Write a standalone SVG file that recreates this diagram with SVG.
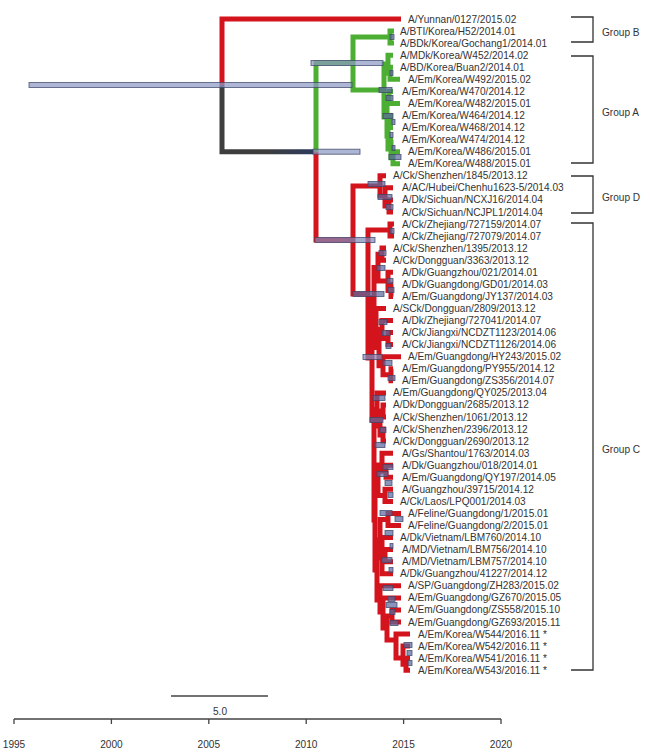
<svg xmlns="http://www.w3.org/2000/svg" width="650" height="752" viewBox="0 0 650 752">
<defs>
<linearGradient id="rootgrad" gradientUnits="userSpaceOnUse" x1="222" y1="0" x2="316" y2="0">
<stop offset="0" stop-color="#3e3e3e"/><stop offset="0.45" stop-color="#3e3e3e"/><stop offset="1" stop-color="#2c3a5e"/>
</linearGradient>
<style>
.br{fill:none;stroke-width:5;stroke-linejoin:miter;stroke-linecap:butt}
.r{stroke:#d4141d}
.g{stroke:#4caf34}
.k{stroke:url(#rootgrad)}
.hpd rect{fill:#5d6a9e;fill-opacity:0.72;stroke:#3c4566;stroke-width:0.9;stroke-opacity:0.8}
.t{font-family:"Liberation Sans","Open Sans",sans-serif;font-size:10.1px;fill:#333}
.br2{fill:none;stroke:#333;stroke-width:1.3}
.ax{fill:none;stroke:#444;stroke-width:1.3}
</style>
</defs>
<rect width="650" height="752" fill="#fff"/>

<g id="connectors">
<g id="branches-root">
<path class="br r" d="M401 19H222V85"/>
<path class="br k" d="M222 85V151.7H316"/>
</g>
<g id="branches-green">
<path class="br g" d="M353 63H316V151.7"/>
<path class="br g" d="M390 37.1H353V90H384"/>
<path class="br g" d="M394 31.1H390V43.1H394"/>
<path class="br g" d="M388 64H384V117H387"/>
<path class="br g" d="M393 55.2H388V73.3H390"/>
<path class="br g" d="M393 67.2H390V79.3H400"/>
<path class="br g" d="M389 97.4H387V136H388"/>
<path class="br g" d="M393 91.4H389V103.4H400"/>
<path class="br g" d="M390 121.5H388V149H391"/>
<path class="br g" d="M393 115.5H390V127.5H393"/>
<path class="br g" d="M393 139.6H391V157.7H393"/>
<path class="br g" d="M400 151.7H393V163.7H400"/>
</g>
<g id="branches-red">
<path class="br r" d="M316 151.7V240H353"/>
<path class="br r" d="M380 186H353V294H368"/>
<path class="br r" d="M386 175.8H380V196H385"/>
<path class="br r" d="M393 187.8H385V206H389"/>
<path class="br r" d="M393 199.9H389V212H393"/>
<path class="br r" d="M390 230H368V358H372"/>
<path class="br r" d="M394 224H390V236.1H394"/>
<path class="br r" d="M374 298H372V420H374"/>
<path class="br r" d="M378 267.5H374V328H376"/>
<path class="br r" d="M382 254.2H378V281H388"/>
<path class="br r" d="M386 248.1H382V260.2H386"/>
<path class="br r" d="M393 272.3H388V290.4H391"/>
<path class="br r" d="M393 284.3H391V296.4H393"/>
<path class="br r" d="M386 308.4H376V347.6H379"/>
<path class="br r" d="M382 329.5H379V365.7H383"/>
<path class="br r" d="M393 320.5H382V338.6H388"/>
<path class="br r" d="M393 332.6H388V344.6H393"/>
<path class="br r" d="M401 356.7H383V374.8H391"/>
<path class="br r" d="M393 368.7H391V380.8H393"/>
<path class="br r" d="M377 409.5H374V520H375"/>
<path class="br r" d="M386 392.9H377V426H380"/>
<path class="br r" d="M383 411H380V435H383"/>
<path class="br r" d="M386 404.9H383V417H386"/>
<path class="br r" d="M386 429H383V441.1H386"/>
<path class="br r" d="M378 478H375V570H377"/>
<path class="br r" d="M382 465H378V495.4H385"/>
<path class="br r" d="M393 453.2H382V471.3H386"/>
<path class="br r" d="M393 465.2H386V477.3H393"/>
<path class="br r" d="M393 489.3H385V501.4H393"/>
<path class="br r" d="M380 540H377V600H380"/>
<path class="br r" d="M388 519.5H380V558H382"/>
<path class="br r" d="M401 513.5H388V525.5H401"/>
<path class="br r" d="M393 537.6H382V573.8H393M382 555.7H385"/>
<path class="br r" d="M393 549.6H385V561.7H393"/>
<path class="br r" d="M401 585.8H380V612H383"/>
<path class="br r" d="M401 597.9H383V628H387"/>
<path class="br r" d="M392 616H387V640H396"/>
<path class="br r" d="M401 609.9H392V622H401"/>
<path class="br r" d="M410 634.1H396V658H403"/>
<path class="br r" d="M410 646.1H403V664.2H406"/>
<path class="br r" d="M410 658.2H406V670.2H410"/>
</g>
<g id="hpd-bars" class="hpd">
<rect x="29" y="82.5" width="323" height="5" style="fill:#8e9ac4"/>
<rect x="313" y="149.2" width="47" height="5" style="fill:#8e9ac4"/>
<rect x="311" y="60.5" width="72" height="5" style="fill:#8e9ac4"/>
<rect x="390" y="34.5" width="4" height="5"/>
<rect x="390" y="70.5" width="3" height="5"/>
<rect x="379" y="87.5" width="13" height="5"/>
<rect x="386" y="95.5" width="7" height="5"/>
<rect x="383" y="113.5" width="10" height="5"/>
<rect x="392" y="119.5" width="3" height="5"/>
<rect x="390" y="132.5" width="3" height="5"/>
<rect x="392" y="145.5" width="3" height="5"/>
<rect x="389" y="154.5" width="12" height="5"/>
<rect x="315" y="237.5" width="60" height="5" style="fill:#7f8bbb"/>
<rect x="368" y="181.5" width="17" height="5"/>
<rect x="378" y="194.5" width="14" height="5"/>
<rect x="386" y="204.5" width="7" height="5"/>
<rect x="390" y="228.5" width="4" height="5"/>
<rect x="379" y="250.5" width="7" height="5"/>
<rect x="377" y="265.5" width="8" height="5"/>
<rect x="387" y="278.5" width="6" height="5"/>
<rect x="388" y="287.5" width="6" height="5"/>
<rect x="353" y="291.5" width="31" height="5"/>
<rect x="379" y="319.5" width="8" height="5"/>
<rect x="382" y="330.5" width="8" height="5"/>
<rect x="386" y="343.5" width="5" height="5"/>
<rect x="363" y="354.5" width="19" height="5" style="fill:#7f8bbb"/>
<rect x="383" y="360.5" width="9" height="5"/>
<rect x="388" y="375.5" width="7" height="5"/>
<rect x="373" y="395.5" width="12" height="5"/>
<rect x="370" y="417.5" width="13" height="5"/>
<rect x="380" y="427.5" width="6" height="5"/>
<rect x="375" y="442.5" width="10" height="5"/>
<rect x="383" y="464.5" width="10" height="5"/>
<rect x="377" y="471.5" width="11" height="5"/>
<rect x="385" y="480.5" width="7" height="5"/>
<rect x="388" y="492.5" width="5" height="5"/>
<rect x="380" y="510.5" width="12" height="5"/>
<rect x="395" y="516.5" width="8" height="5"/>
<rect x="385" y="530.5" width="8" height="5"/>
<rect x="390" y="543.5" width="3" height="5"/>
<rect x="382" y="557.5" width="10" height="5"/>
<rect x="389" y="567.5" width="4" height="5"/>
<rect x="383" y="585.5" width="10" height="5"/>
<rect x="388" y="596.5" width="7" height="5"/>
<rect x="386" y="602.5" width="11" height="5"/>
<rect x="390" y="609.5" width="5" height="5"/>
<rect x="390" y="620.5" width="8" height="5"/>
<rect x="404" y="642.5" width="8" height="5"/>
<rect x="407" y="650.5" width="5" height="5"/>
<rect x="408" y="660.5" width="4" height="5"/>
</g>
</g>

<g id="leaves" class="t">
<g id="n1"><text x="408" y="22.5">A/Yunnan/0127/2015.02</text></g>
<g id="n2"><text x="400" y="34.6">A/BTI/Korea/H52/2014.01</text></g>
<g id="n3"><text x="400" y="46.6">A/BDk/Korea/Gochang1/2014.01</text></g>
<g id="n4"><text x="400" y="58.7">A/MDk/Korea/W452/2014.02</text></g>
<g id="n5"><text x="400" y="70.7">A/BD/Korea/Buan2/2014.01</text></g>
<g id="n6"><text x="408" y="82.8">A/Em/Korea/W492/2015.02</text></g>
<g id="n7"><text x="402" y="94.9">A/Em/Korea/W470/2014.12</text></g>
<g id="n8"><text x="408" y="106.9">A/Em/Korea/W482/2015.01</text></g>
<g id="n9"><text x="402" y="119">A/Em/Korea/W464/2014.12</text></g>
<g id="n10"><text x="402" y="131">A/Em/Korea/W468/2014.12</text></g>
<g id="n11"><text x="402" y="143.1">A/Em/Korea/W474/2014.12</text></g>
<g id="n12"><text x="408" y="155.2">A/Em/Korea/W486/2015.01</text></g>
<g id="n13"><text x="408" y="167.2">A/Em/Korea/W488/2015.01</text></g>
<g id="n14"><text x="393" y="179.3">A/Ck/Shenzhen/1845/2013.12</text></g>
<g id="n15"><text x="402" y="191.3">A/AC/Hubei/Chenhu1623-5/2014.03</text></g>
<g id="n16"><text x="402" y="203.4">A/Dk/Sichuan/NCXJ16/2014.04</text></g>
<g id="n17"><text x="402" y="215.5">A/Ck/Sichuan/NCJPL1/2014.04</text></g>
<g id="n18"><text x="402" y="227.5">A/Ck/Zhejiang/727159/2014.07</text></g>
<g id="n19"><text x="402" y="239.6">A/Ck/Zhejiang/727079/2014.07</text></g>
<g id="n20"><text x="393" y="251.6">A/Ck/Shenzhen/1395/2013.12</text></g>
<g id="n21"><text x="393" y="263.7">A/Ck/Dongguan/3363/2013.12</text></g>
<g id="n22"><text x="402" y="275.8">A/Dk/Guangzhou/021/2014.01</text></g>
<g id="n23"><text x="402" y="287.8">A/Dk/Guangdong/GD01/2014.03</text></g>
<g id="n24"><text x="402" y="299.9">A/Em/Guangdong/JY137/2014.03</text></g>
<g id="n25"><text x="393" y="311.9">A/SCk/Dongguan/2809/2013.12</text></g>
<g id="n26"><text x="402" y="324">A/Dk/Zhejiang/727041/2014.07</text></g>
<g id="n27"><text x="402" y="336.1">A/Ck/Jiangxi/NCDZT1123/2014.06</text></g>
<g id="n28"><text x="402" y="348.1">A/Ck/Jiangxi/NCDZT1126/2014.06</text></g>
<g id="n29"><text x="408" y="360.2">A/Em/Guangdong/HY243/2015.02</text></g>
<g id="n30"><text x="402" y="372.2">A/Em/Guangdong/PY955/2014.12</text></g>
<g id="n31"><text x="402" y="384.3">A/Em/Guangdong/ZS356/2014.07</text></g>
<g id="n32"><text x="393" y="396.4">A/Em/Guangdong/QY025/2013.04</text></g>
<g id="n33"><text x="393" y="408.4">A/Dk/Dongguan/2685/2013.12</text></g>
<g id="n34"><text x="393" y="420.5">A/Ck/Shenzhen/1061/2013.12</text></g>
<g id="n35"><text x="393" y="432.5">A/Ck/Shenzhen/2396/2013.12</text></g>
<g id="n36"><text x="393" y="444.6">A/Ck/Dongguan/2690/2013.12</text></g>
<g id="n37"><text x="402" y="456.7">A/Gs/Shantou/1763/2014.03</text></g>
<g id="n38"><text x="402" y="468.7">A/Dk/Guangzhou/018/2014.01</text></g>
<g id="n39"><text x="402" y="480.8">A/Em/Guangdong/QY197/2014.05</text></g>
<g id="n40"><text x="402" y="492.8">A/Guangzhou/39715/2014.12</text></g>
<g id="n41"><text x="400" y="504.9">A/Ck/Laos/LPQ001/2014.03</text></g>
<g id="n42"><text x="408" y="517">A/Feline/Guangdong/1/2015.01</text></g>
<g id="n43"><text x="408" y="529">A/Feline/Guangdong/2/2015.01</text></g>
<g id="n44"><text x="400" y="541.1">A/Dk/Vietnam/LBM760/2014.10</text></g>
<g id="n45"><text x="402" y="553.1">A/MD/Vietnam/LBM756/2014.10</text></g>
<g id="n46"><text x="402" y="565.2">A/MD/Vietnam/LBM757/2014.10</text></g>
<g id="n47"><text x="400" y="577.3">A/Dk/Guangzhou/41227/2014.12</text></g>
<g id="n48"><text x="408" y="589.3">A/SP/Guangdong/ZH283/2015.02</text></g>
<g id="n49"><text x="408" y="601.4">A/Em/Guangdong/GZ670/2015.05</text></g>
<g id="n50"><text x="408" y="613.4">A/Em/Guangdong/ZS558/2015.10</text></g>
<g id="n51"><text x="408" y="625.5">A/Em/Guangdong/GZ693/2015.11</text></g>
<g id="n52"><text x="418" y="637.6">A/Em/Korea/W544/2016.11 *</text></g>
<g id="n53"><text x="418" y="649.6">A/Em/Korea/W542/2016.11 *</text></g>
<g id="n54"><text x="418" y="661.7">A/Em/Korea/W541/2016.11 *</text></g>
<g id="n55"><text x="418" y="673.7">A/Em/Korea/W543/2016.11 *</text></g>
</g>

<g id="group-b"><path class="br2" d="M571 17H593V42H571"/><text class="t" x="602" y="35.5">Group B</text></g>
<g id="group-a"><path class="br2" d="M571 56H593V163H571"/><text class="t" x="602" y="115.5">Group A</text></g>
<g id="group-d"><path class="br2" d="M571 176H593V213H571"/><text class="t" x="602" y="200.5">Group D</text></g>
<g id="group-c"><path class="br2" d="M571 223H593V670H571"/><text class="t" x="602" y="452.5">Group C</text></g>

<g id="scale-bar"><path class="ax" d="M171 696H268"/><text class="t" x="220" y="714.5" text-anchor="middle">5.0</text></g>

<g id="time-axis">
<path class="ax" d="M14 719H501M14 719V724M111.4 719V724M208.8 719V724M306.2 719V724M403.6 719V724M501 719V724"/>
<g class="t" text-anchor="middle">
<text x="14" y="747.5">1995</text>
<text x="111.4" y="747.5">2000</text>
<text x="208.8" y="747.5">2005</text>
<text x="306.2" y="747.5">2010</text>
<text x="403.6" y="747.5">2015</text>
<text x="501" y="747.5">2020</text>
</g>
</g>
</svg>
